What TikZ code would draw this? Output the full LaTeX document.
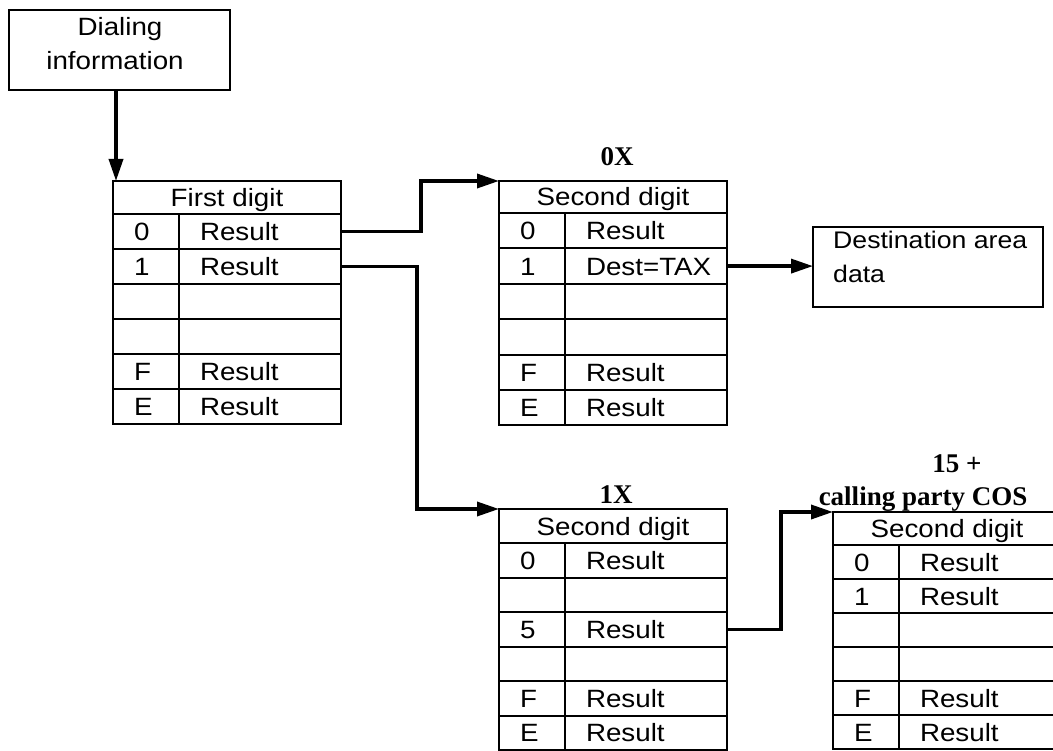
\documentclass[tikz,border=0pt]{standalone}
\usepackage{fontspec}
\setmainfont{Liberation Sans}
\newfontfamily\tabfont[FakeStretch=1.11]{Liberation Sans}
\newfontfamily\labfont{Liberation Serif}
\usetikzlibrary{arrows.meta}

\tikzset{
  cell/.style={draw, line width=2pt, inner sep=0pt, outer sep=0pt, anchor=north west,
    font=\tabfont\fontsize{25}{30}\selectfont, text height=18pt, text depth=0pt},
  rescell/.style={cell, text width=162pt, align=left},
  digcell/.style={cell, text width=66pt, align=left},
  boxnode/.style={draw, line width=2pt, inner sep=0pt, outer sep=0pt, anchor=north west},
  txt/.style={inner sep=0pt, font=\tabfont\fontsize{25}{30}\selectfont},
  dtxt/.style={inner sep=0pt, font=\tabfont\fontsize{24}{30}\selectfont},
  lab/.style={inner sep=0pt, font=\labfont\bfseries\fontsize{27}{30}\selectfont},
  arr/.style={line width=3.5pt, -{Triangle[length=22pt,width=14pt]}}
}

% #1 name, #2 left x, #3 top y, #4 header height, #5 row height, #6 header text, #7 rows
\newcommand\dtab[7]{%
  \node[cell, minimum width=228pt, minimum height=#4pt] (#1-h) at (#2,#3) {#6};
  \foreach[count=\i] \d/\r in {#7} {
    \node[digcell, minimum height=#5pt] (#1-\i-d)
      at ({#2}, {#3+#4+(\i-1)*#5}) {\hspace*{21pt}\d};
    \node[rescell, minimum height=#5pt] (#1-\i-r)
      at ({#2+66}, {#3+#4+(\i-1)*#5}) {\hspace*{21pt}\r};
  }%
}

\begin{document}
\begin{tikzpicture}[x=1pt, y=-1pt]
\clip (0,0) rectangle (1053,751);

% Dialing information
\node[boxnode, minimum width=221pt, minimum height=80pt] (dial) at (9,10) {};
\node[txt, anchor=base] (dial1) at (120,36) {Dialing};
\node[txt, anchor=base] (dial2) at (115,70) {information};

% tables
\dtab{t1}{113}{181}{33}{35}{First digit}{0/Result, 1/Result, {}/{}, {}/{}, F/Result, E/Result}
\dtab{a}{499}{181}{32}{35.4}{Second digit}{0/Result, 1/Dest=TAX, {}/{}, {}/{}, F/Result, E/Result}
\dtab{b}{499}{509}{34}{34.5}{Second digit}{0/Result, {}/{}, 5/Result, {}/{}, F/Result, E/Result}
\dtab{c}{833}{512}{33}{34}{Second digit}{0/Result, 1/Result, {}/{}, {}/{}, F/Result, E/Result}

% Destination area data
\node[boxnode, minimum width=230pt, minimum height=80pt] (dest) at (813,227) {};
\node[dtxt, anchor=base west] (dest1) at (833,249) {Destination area};
\node[dtxt, anchor=base west] (dest2) at (833,283) {data};

% labels
\node[lab, anchor=base] (l0x) at (617,166) {0X};
\node[lab, anchor=base] (l1x) at (616,503) {1X};
\node[lab, anchor=base] (l15) at (957,472) {15 +};
\node[lab, anchor=base] (lcos) at (923,505) {calling party COS};

% connectors
\draw[arr] ([xshift=-3.5pt]dial.south) -- ([xshift=-3.5pt]dial.south |- t1-h.north);
\draw[arr] (t1-1-r.east) -- ++(80,0) |- (a-h.north west);
\draw[arr] (t1-2-r.east) -- ++(76,0) |- (b-h.north west);
\draw[arr] (a-2-r.east) -- (a-2-r.east -| dest.west);
\draw[arr] (b-3-r.east) -- ++(54,0) |- (c-h.north west);
\end{tikzpicture}
\end{document}
